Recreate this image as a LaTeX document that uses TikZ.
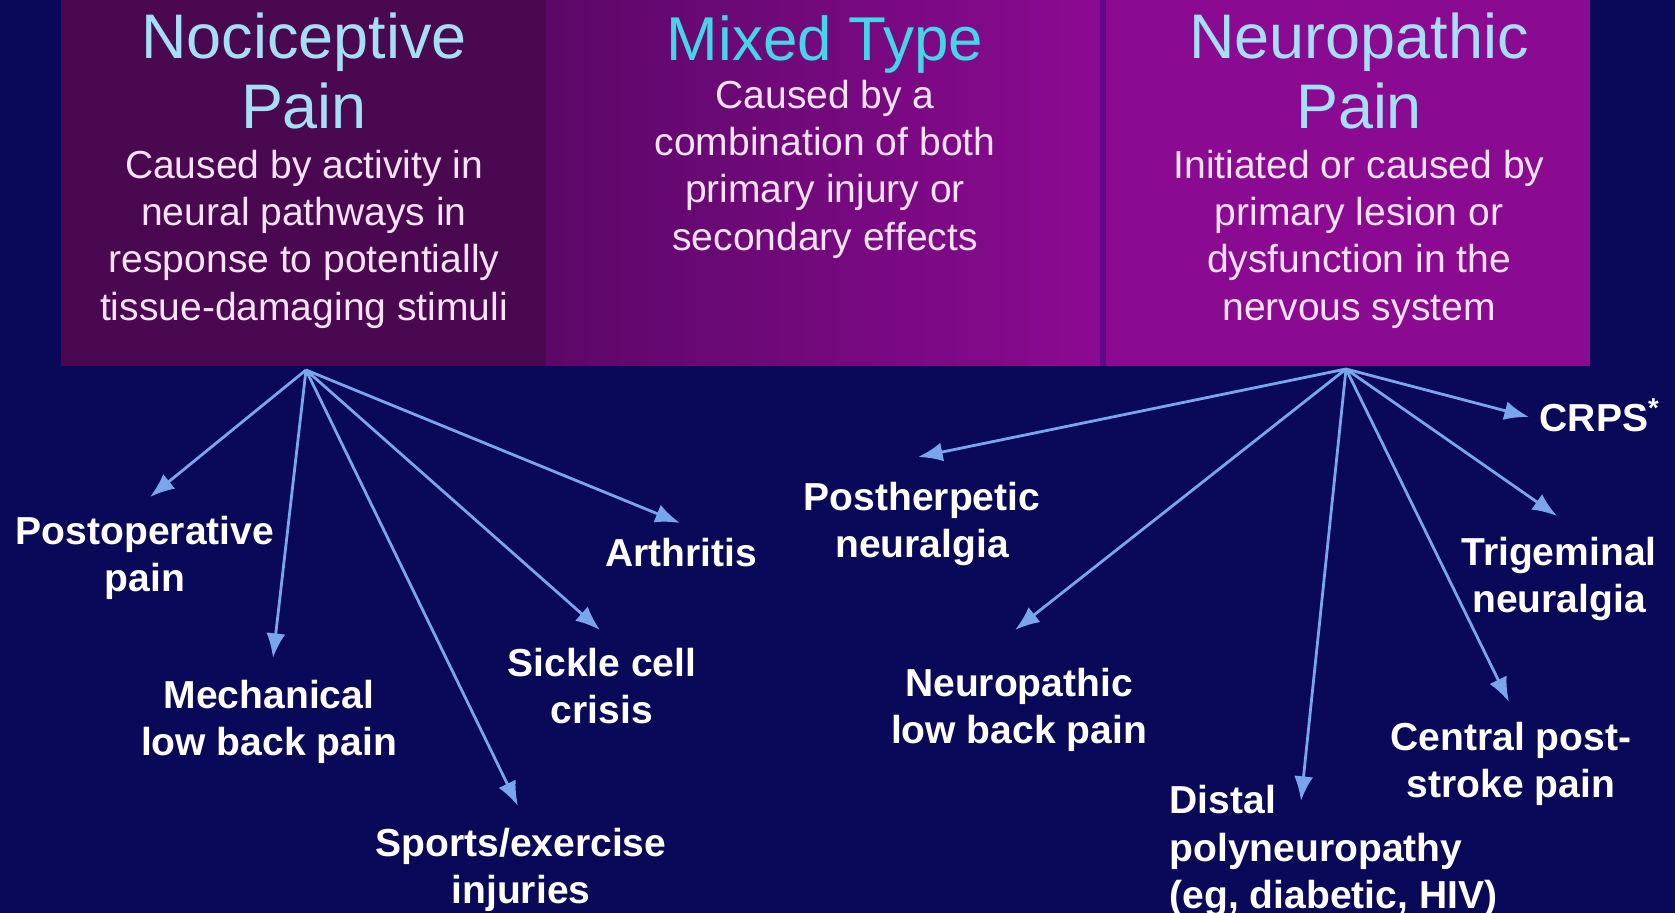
\documentclass[tikz,border=0pt]{standalone}
\usepackage{fontspec}
\setmainfont{Liberation Sans}
\usetikzlibrary{arrows.meta}
\definecolor{navy}{RGB}{10,8,88}
\definecolor{plumdark}{RGB}{74,8,80}
\definecolor{plummid}{RGB}{92,8,104}
\definecolor{magent}{RGB}{139,10,146}
\definecolor{seam}{RGB}{98,8,136}
\definecolor{titlecyan}{RGB}{165,222,245}
\definecolor{mixcyan}{RGB}{70,212,232}
\definecolor{bodypink}{RGB}{248,226,248}
\definecolor{arrowblue}{RGB}{120,165,235}

\begin{document}
\begin{tikzpicture}[
  x=0.01cm, y=-0.01cm,
  every node/.style = {inner sep=0pt, align=center},
  title/.style = {text=titlecyan, font=\fontsize{17.9}{19.9}\selectfont},
  body/.style = {text=bodypink, font=\fontsize{11.1}{13.45}\selectfont},
  lbl/.style = {text=white, font=\fontsize{11.1}{13.45}\selectfont\bfseries},
  arr/.style = {draw=arrowblue, line width=0.8pt, -{Latex[length=7pt,width=5.4pt]}}
]
  \useasboundingbox (0,0) rectangle (1675,913);
  \fill[navy] (0,0) rectangle (1675,913);
  \fill[plumdark] (61,0) rectangle (546,366);
  \shade[left color=plummid, right color=magent] (546,0) rectangle (1104,366);
  \fill[magent] (1104,0) rectangle (1590,366);
  \fill[seam] (1100,0) rectangle (1106,366);

  \node[title] (noci) at (304,71) {Nociceptive\\Pain};
  \node[body] (nociTxt) at (304,239) {Caused by activity in\\neural pathways in\\response to potentially\\tissue-damaging stimuli};
  \node[title, text=mixcyan, font=\fontsize{17.6}{19.9}\selectfont] (mixed) at (825,45) {Mixed Type};
  \node[body] (mixedTxt) at (825,169) {Caused by a\\combination of both\\primary injury or\\secondary effects};
  \node[title] (neuro) at (1359,71) {Neuropathic\\Pain};
  \node[body] (neuroTxt) at (1359,239) {Initiated or caused by\\primary lesion or\\dysfunction in the\\nervous system};

  \coordinate (nociHub) at (306,370);
  \coordinate (neuroHub) at (1346,369);

  \node[lbl] (postop) at (145,558) {Postoperative\\pain};
  \node[lbl] (mech) at (269,722) {Mechanical\\low back pain};
  \node[lbl] (sports) at (521,870) {Sports/exercise\\injuries};
  \node[lbl] (sickle) at (602,686) {Sickle cell\\crisis};
  \node[lbl] (arthr) at (681,553) {Arthritis};
  \node[lbl] (posther) at (922,524) {Postherpetic\\neuralgia};
  \node[lbl] (nlbp) at (1019,710) {Neuropathic\\low back pain};
  \node[lbl, anchor=west, align=left] (distal) at (1169,851) {Distal\\polyneuropathy\\(eg, diabetic, HIV)};
  \node[lbl] (central) at (1511,764) {Central post-\\stroke pain};
  \node[lbl] (trig) at (1559,579) {Trigeminal\\neuralgia};
  \node[lbl, anchor=west] (crps) at (1539,415) {CRPS\textsuperscript{*}};

  \coordinate (postopTip) at (150,497);
  \coordinate (mechTip) at (273,658);
  \coordinate (sportsTip) at (518,806);
  \coordinate (sickleTip) at (600,630);
  \coordinate (arthrTip) at (680,523);
  \coordinate (postherTip) at (918,457);
  \coordinate (nlbpTip) at (1015,630);
  \coordinate (distalTip) at (1301,801);
  \coordinate (centralTip) at (1509,702);
  \coordinate (trigTip) at (1557,516);
  \coordinate (crpsTip) at (1529,417);

  \foreach \t in {postop,mech,sports,sickle,arthr}
    \draw[arr] (nociHub) -- (\t Tip);
  \foreach \t in {posther,nlbp,distal,central,trig,crps}
    \draw[arr] (neuroHub) -- (\t Tip);
\end{tikzpicture}
\end{document}
